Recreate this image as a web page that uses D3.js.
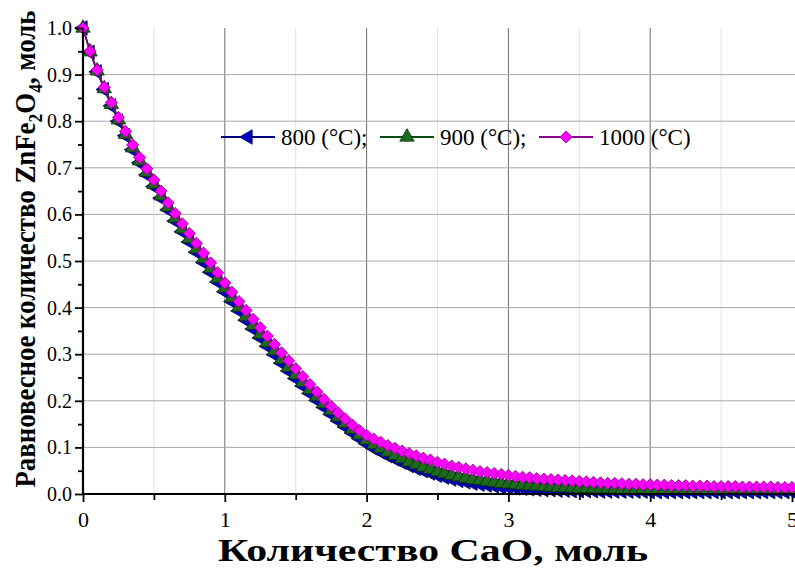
<!DOCTYPE html>
<html>
<head>
<meta charset="utf-8">
<script src="https://cdn.jsdelivr.net/npm/d3@7"></script>
<style>
  body { margin: 0; background: #fff; }
  svg { display: block; }
  svg text { font-family: 'Liberation Serif', 'Times New Roman', serif; fill: #000; }
</style>
</head>
<body>
<div id="chart"></div>
<script>
// x grid: CaO amount, step 0.05 mol
const caoMol = d3.range(101).map(i => +(i * 0.05).toFixed(2));

// equilibrium ZnFe2O4, mol
const zn800 = [
  1.000,0.948,0.906,0.868,0.833,0.800,0.769,0.739,0.711,0.685,
  0.660,0.635,0.610,0.586,0.563,0.541,0.519,0.497,0.476,0.455,
  0.434,0.413,0.393,0.373,0.354,0.335,0.317,0.299,0.281,0.264,
  0.248,0.232,0.216,0.201,0.186,0.171,0.157,0.144,0.131,0.119,
  0.108,0.098,0.090,0.082,0.075,0.068,0.061,0.055,0.050,0.045,
  0.040,0.036,0.032,0.029,0.026,0.023,0.021,0.019,0.017,0.015,
  0.014,0.013,0.012,0.011,0.010,0.009,0.009,0.008,0.008,0.007,
  0.007,0.007,0.007,0.006,0.006,0.006,0.006,0.006,0.006,0.006,
  0.005,0.005,0.005,0.005,0.005,0.005,0.005,0.005,0.005,0.005,
  0.005,0.005,0.005,0.005,0.005,0.005,0.005,0.005,0.005,0.005,
  0.005
];
const zn900 = [
  1.000,0.949,0.908,0.870,0.836,0.803,0.772,0.743,0.715,0.690,
  0.665,0.640,0.616,0.592,0.569,0.548,0.526,0.505,0.484,0.463,
  0.442,0.421,0.401,0.381,0.362,0.343,0.325,0.307,0.289,0.272,
  0.256,0.240,0.224,0.209,0.194,0.179,0.165,0.152,0.139,0.127,
  0.116,0.106,0.098,0.090,0.083,0.076,0.069,0.063,0.058,0.053,
  0.048,0.044,0.040,0.037,0.034,0.031,0.029,0.027,0.025,0.023,
  0.022,0.020,0.019,0.018,0.017,0.016,0.015,0.014,0.014,0.013,
  0.012,0.012,0.012,0.011,0.011,0.011,0.010,0.010,0.010,0.010,
  0.010,0.009,0.009,0.009,0.009,0.009,0.009,0.009,0.009,0.009,
  0.009,0.009,0.009,0.008,0.008,0.008,0.008,0.008,0.008,0.008,
  0.008
];
const zn1000 = [
  1.000,0.950,0.910,0.873,0.840,0.808,0.778,0.749,0.722,0.698,
  0.674,0.650,0.625,0.602,0.580,0.559,0.538,0.517,0.496,0.475,
  0.453,0.433,0.413,0.394,0.375,0.357,0.339,0.321,0.303,0.286,
  0.269,0.252,0.235,0.219,0.203,0.188,0.174,0.161,0.148,0.136,
  0.126,0.118,0.111,0.104,0.098,0.092,0.087,0.082,0.077,0.073,
  0.068,0.064,0.060,0.057,0.054,0.051,0.048,0.046,0.044,0.042,
  0.040,0.038,0.036,0.035,0.033,0.032,0.031,0.030,0.029,0.028,
  0.027,0.026,0.025,0.024,0.023,0.023,0.022,0.021,0.021,0.020,
  0.020,0.019,0.019,0.018,0.018,0.018,0.017,0.017,0.017,0.016,
  0.016,0.016,0.016,0.015,0.015,0.015,0.015,0.015,0.014,0.014,
  0.014
];

const seriesNames = ["800 (°C);", "900 (°C);", "1000 (°C)"];
const xTicks = [0, 1, 2, 3, 4, 5];
const yTicks = [0, 0.1, 0.2, 0.3, 0.4, 0.5, 0.6, 0.7, 0.8, 0.9, 1.0];

const W = 795, H = 570;
const margin = { left: 83, right: 3, top: 28, bottom: 76 };

const svg = d3.select("#chart").append("svg")
  .attr("width", W).attr("height", H);

const x = d3.scaleLinear().domain([0, 5]).range([margin.left, W - margin.right]);
const y = d3.scaleLinear().domain([0, 1]).range([H - margin.bottom, margin.top]);

// grid
const grid = svg.append("g");
grid.selectAll(".vminor").data(d3.range(0.5, 5, 1)).join("line")
  .attr("x1", d => x(d)).attr("x2", d => x(d))
  .attr("y1", y(0)).attr("y2", y(1))
  .attr("stroke", "#e2e2e2").attr("stroke-width", 1);
grid.selectAll(".vmajor").data([1, 2, 3, 4]).join("line")
  .attr("x1", d => x(d)).attr("x2", d => x(d))
  .attr("y1", y(0)).attr("y2", y(1))
  .attr("stroke", "#6e6e6e").attr("stroke-width", 1);
grid.selectAll(".hmajor").data(yTicks.slice(1, 10)).join("line")
  .attr("x1", x(0)).attr("x2", W)
  .attr("y1", d => y(d)).attr("y2", d => y(d))
  .attr("stroke", "#a8a8a8").attr("stroke-width", 1);

// series
const series = [
  { name: seriesNames[0], vals: zn800, line: "#000080", fill: "#0000c8", stroke: "#000050", shape: "left" },
  { name: seriesNames[1], vals: zn900, line: "#0b4d0b", fill: "#1c6b1c", stroke: "#0a300a", shape: "up" },
  { name: seriesNames[2], vals: zn1000, line: "#8b008b", fill: "#ff00ff", stroke: "#8b008b", shape: "diamond" }
];

const triPath = d3.symbol().type(d3.symbolTriangle).size(90)();
const diaPath = d3.symbol().type(d3.symbolSquare).size(74)();

function marker(sel, s) {
  if (s.shape === "diamond") {
    sel.attr("d", diaPath).attr("data-rot", 45);
  } else {
    sel.attr("d", triPath).attr("data-rot", s.shape === "left" ? -90 : 0);
  }
  return sel.attr("fill", s.fill).attr("stroke", s.stroke).attr("stroke-width", 0.8);
}

const lineGen = d3.line().x((d, i) => x(caoMol[i])).y(d => y(d));

series.forEach(s => {
  const g = svg.append("g");
  g.append("path").datum(s.vals)
    .attr("d", lineGen)
    .attr("fill", "none").attr("stroke", s.line).attr("stroke-width", 1.5);
  g.selectAll("path.pt").data(s.vals).join("path")
    .attr("class", "pt")
    .call(marker, s)
    .attr("transform", function (d, i) {
      return "translate(" + x(caoMol[i]) + "," + y(d) + ") rotate(" + this.getAttribute("data-rot") + ")";
    });
});

// axes
const xAxis = svg.append("g")
  .attr("transform", "translate(0," + y(0) + ")")
  .call(d3.axisBottom(x).tickValues(xTicks).tickFormat(d3.format("d")).tickSize(8).tickPadding(9));
svg.append("g")
  .attr("transform", "translate(0," + y(0) + ")")
  .call(d3.axisBottom(x).tickValues(d3.range(0.5, 5, 1)).tickFormat("").tickSize(6))
  .call(g => g.select(".domain").remove());
const yAxis = svg.append("g")
  .attr("transform", "translate(" + x(0) + ",0)")
  .call(d3.axisLeft(y).tickValues(yTicks).tickFormat(d3.format(".1f")).tickSize(8).tickPadding(3));
svg.append("g")
  .attr("transform", "translate(" + x(0) + ",0)")
  .call(d3.axisLeft(y).tickValues(d3.range(0.05, 1, 0.1)).tickFormat("").tickSize(5))
  .call(g => g.select(".domain").remove());

svg.selectAll("g").attr("font-family", null);
svg.selectAll(".domain").attr("stroke", "#000").attr("stroke-width", 2.2);
svg.selectAll(".tick line").attr("stroke", "#000").attr("stroke-width", 1.8);
xAxis.selectAll("text").attr("font-size", 22);
yAxis.selectAll("text").attr("font-size", 20);
// axis domain: only the plain line, no end caps
xAxis.select(".domain").attr("d", "M" + x(0) + ",0H" + W);
yAxis.select(".domain").attr("d", "M0," + y(0) + "V" + y(1));

// titles
svg.append("text")
  .attr("x", 433).attr("y", 561)
  .attr("text-anchor", "middle")
  .attr("font-size", 31).attr("font-weight", "bold")
  .attr("textLength", 430).attr("lengthAdjust", "spacingAndGlyphs")
  .text("Количество CaO, моль");

const yt = svg.append("text")
  .attr("transform", "translate(35,249) rotate(-90)")
  .attr("text-anchor", "middle")
  .attr("font-size", 29).attr("font-weight", "bold")
  .attr("textLength", 477).attr("lengthAdjust", "spacingAndGlyphs");
yt.append("tspan").text("Равновесное количество ZnFe");
yt.append("tspan").attr("font-size", 19).attr("dy", 7).text("2");
yt.append("tspan").attr("dy", -7).text("O");
yt.append("tspan").attr("font-size", 19).attr("dy", 7).text("4");
yt.append("tspan").attr("dy", -7).text(", моль");

// legend
const legX = [221, 380, 539];
const legY = 137;
series.forEach((s, i) => {
  const lg = svg.append("g");
  lg.append("line")
    .attr("x1", legX[i]).attr("x2", legX[i] + 54)
    .attr("y1", legY).attr("y2", legY)
    .attr("stroke", s.line).attr("stroke-width", 2);
  lg.append("path").call(marker, s)
    .attr("transform", function () {
      return "translate(" + (legX[i] + 27) + "," + legY + ") rotate(" + this.getAttribute("data-rot") + ")";
    });
  lg.append("text")
    .attr("x", legX[i] + 60).attr("y", legY + 8)
    .attr("font-size", 23)
    .text(s.name);
});
</script>
</body>
</html>
